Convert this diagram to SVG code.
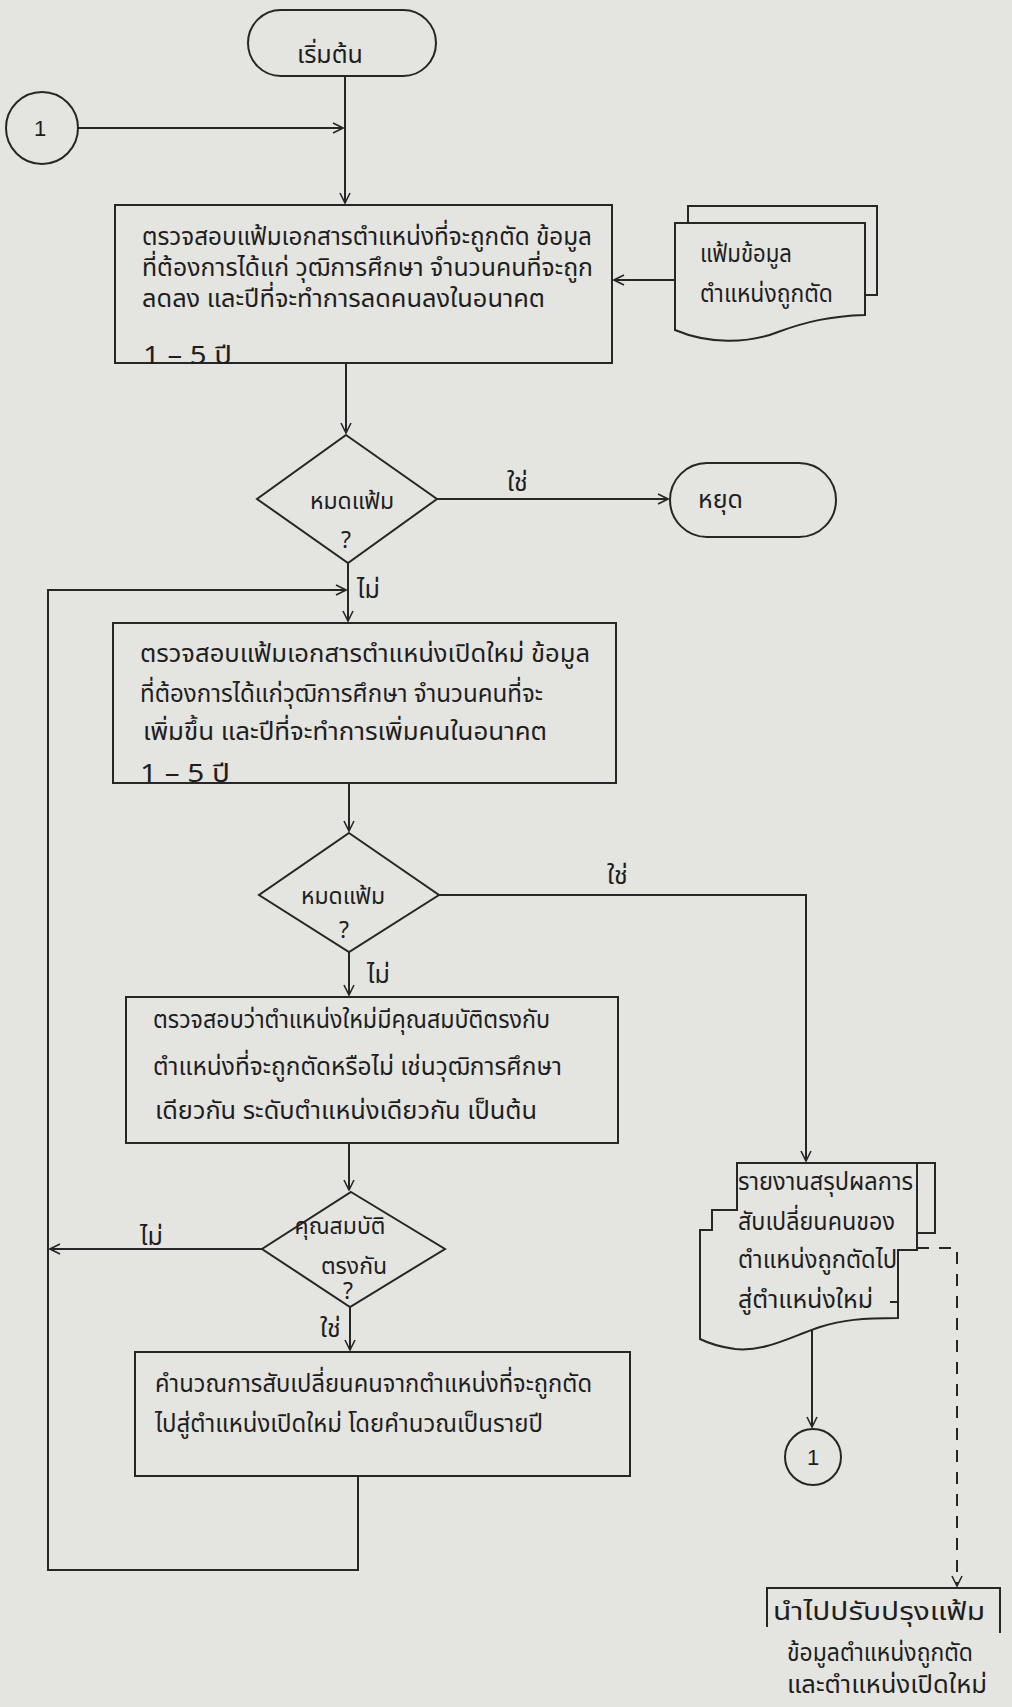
<svg xmlns="http://www.w3.org/2000/svg" width="1012" height="1707" viewBox="0 0 1012 1707">
<style>
.bg{fill:#e4e4e1}
.nd{fill:none;stroke:#262626;stroke-width:2}
.pg{fill:#e4e4e1;stroke:#262626;stroke-width:2}
.ln{fill:none;stroke:#262626;stroke-width:2}
.dash{fill:none;stroke:#262626;stroke-width:2;stroke-dasharray:12 10}
.t{font-family:"Noto Sans Thai","Noto Sans","DejaVu Sans",sans-serif;font-size:25px;fill:#1e1e1e}
.s{font-size:23px}
.c{text-anchor:middle}
.n{font-family:"Liberation Sans",Arial,sans-serif;font-size:22px;fill:#1e1e1e;text-anchor:middle}
</style>
<defs>
<marker id="ah" viewBox="0 0 12 12" refX="11" refY="6" markerWidth="12" markerHeight="12" markerUnits="userSpaceOnUse" orient="auto">
<path d="M1,1 L11,6 L1,11" fill="none" stroke="#262626" stroke-width="1.6"/>
</marker>
</defs>
<rect class="bg" x="0" y="0" width="1012" height="1707"/>

<g id="connectors">
<path class="ln" d="M345,76 V203" marker-end="url(#ah)"/>
<path class="ln" d="M78,128 H343" marker-end="url(#ah)"/>
<path class="ln" d="M675,280 H614" marker-end="url(#ah)"/>
<path class="ln" d="M346,363 V433" marker-end="url(#ah)"/>
<path class="ln" d="M437,499 H668" marker-end="url(#ah)"/>
<path class="ln" d="M348,563 V621" marker-end="url(#ah)"/>
<path class="ln" d="M358,1476 V1570 H48 V590 H346" marker-end="url(#ah)"/>
<path class="ln" d="M349,783 V831" marker-end="url(#ah)"/>
<path class="ln" d="M439,895 H806 V1161" marker-end="url(#ah)"/>
<path class="ln" d="M349,952 V995" marker-end="url(#ah)"/>
<path class="ln" d="M349,1143 V1190" marker-end="url(#ah)"/>
<path class="ln" d="M262,1249 H50" marker-end="url(#ah)"/>
<path class="ln" d="M350,1307 V1350" marker-end="url(#ah)"/>
<path class="ln" d="M812,1330 V1427" marker-end="url(#ah)"/>
<path class="dash" d="M917,1248 H957 V1586" marker-end="url(#ah)"/>
<text class="t" x="507" y="491">ใช่</text>
<text class="t" x="357" y="598">ไม่</text>
<text class="t" x="607" y="884">ใช่</text>
<text class="t" x="367" y="983">ไม่</text>
<text class="t" x="140" y="1245">ไม่</text>
<text class="t" x="320" y="1337">ใช่</text>
</g>

<g id="start">
<rect class="nd" x="248" y="10" width="188" height="66" rx="33"/>
<text class="t c" x="330" y="63">เริ่มต้น</text>
</g>

<g id="connector-1-in">
<circle class="nd" cx="42" cy="128" r="36"/>
<text class="n" x="40" y="136">1</text>
</g>

<g id="box1">
<rect class="nd" x="115" y="205" width="497" height="158"/>
<text class="t" x="142" y="245" textLength="450" lengthAdjust="spacingAndGlyphs">ตรวจสอบแฟ้มเอกสารตำแหน่งที่จะถูกตัด ข้อมูล</text>
<text class="t" x="142" y="276" textLength="451" lengthAdjust="spacingAndGlyphs">ที่ต้องการได้แก่ วุฒิการศึกษา จำนวนคนที่จะถูก</text>
<text class="t" x="142" y="307" textLength="403" lengthAdjust="spacingAndGlyphs">ลดลง และปีที่จะทำการลดคนลงในอนาคต</text>
<text class="t" x="143" y="364" textLength="89" lengthAdjust="spacingAndGlyphs">1 – 5 ปี</text>
</g>

<g id="doc1">
<path class="pg" d="M688,295 V206 H877 V295 H860"/>
<path class="pg" d="M675,223 H865 V315 C830,316 805,322 778,332 C748,344 708,344 675,330 Z"/>
<text class="t" x="700" y="262" textLength="92" lengthAdjust="spacingAndGlyphs">แฟ้มข้อมูล</text>
<text class="t" x="700" y="302" textLength="133" lengthAdjust="spacingAndGlyphs">ตำแหน่งถูกตัด</text>
</g>

<g id="decision1">
<path class="nd" d="M346,435 L437,499 L348,563 L257,499 Z"/>
<text class="t s c" x="352" y="509">หมดแฟ้ม</text>
<text class="t s c" x="346" y="548">?</text>
</g>

<g id="stop">
<rect class="nd" x="670" y="463" width="166" height="74" rx="37"/>
<text class="t" x="698" y="508">หยุด</text>
</g>

<g id="box2">
<rect class="nd" x="113" y="623" width="503" height="160"/>
<text class="t" x="140" y="662" textLength="450" lengthAdjust="spacingAndGlyphs">ตรวจสอบแฟ้มเอกสารตำแหน่งเปิดใหม่ ข้อมูล</text>
<text class="t" x="140" y="702" textLength="403" lengthAdjust="spacingAndGlyphs">ที่ต้องการได้แก่วุฒิการศึกษา จำนวนคนที่จะ</text>
<text class="t" x="143" y="740" textLength="404" lengthAdjust="spacingAndGlyphs">เพิ่มขึ้น และปีที่จะทำการเพิ่มคนในอนาคต</text>
<text class="t" x="140" y="782" textLength="90" lengthAdjust="spacingAndGlyphs">1 – 5 ปี</text>
</g>

<g id="decision2">
<path class="nd" d="M349,833 L439,895 L349,952 L259,895 Z"/>
<text class="t s c" x="343" y="904">หมดแฟ้ม</text>
<text class="t s c" x="344" y="938">?</text>
</g>

<g id="box3">
<rect class="nd" x="126" y="997" width="492" height="146"/>
<text class="t" x="153" y="1028" textLength="397" lengthAdjust="spacingAndGlyphs">ตรวจสอบว่าตำแหน่งใหม่มีคุณสมบัติตรงกับ</text>
<text class="t" x="153" y="1075" textLength="409" lengthAdjust="spacingAndGlyphs">ตำแหน่งที่จะถูกตัดหรือไม่ เช่นวุฒิการศึกษา</text>
<text class="t" x="155" y="1119" textLength="382" lengthAdjust="spacingAndGlyphs">เดียวกัน ระดับตำแหน่งเดียวกัน เป็นต้น</text>
</g>

<g id="decision3">
<path class="nd" d="M351,1192 L445,1249 L350,1307 L262,1249 Z"/>
<text class="t s c" x="340" y="1234">คุณสมบัติ</text>
<text class="t s c" x="354" y="1274">ตรงกัน</text>
<text class="t s c" x="348" y="1299">?</text>
</g>

<g id="box4">
<rect class="nd" x="135" y="1352" width="495" height="124"/>
<text class="t" x="155" y="1392" textLength="437" lengthAdjust="spacingAndGlyphs">คำนวณการสับเปลี่ยนคนจากตำแหน่งที่จะถูกตัด</text>
<text class="t" x="155" y="1432" textLength="388" lengthAdjust="spacingAndGlyphs">ไปสู่ตำแหน่งเปิดใหม่ โดยคำนวณเป็นรายปี</text>
</g>

<g id="doc2">
<path class="pg" d="M737,1163 H935 V1233 H917 V1250 H898 V1318 C862,1318 842,1320 820,1327 C790,1337 765,1352 735,1349 C720,1347 708,1343 700,1339 V1230 H712 V1210 H737 Z"/>
<path class="nd" d="M917,1163 V1233"/>
<path class="nd" d="M712,1210 H726"/>
<path class="nd" d="M700,1230 H710"/>
<path class="nd" d="M898,1290 V1302 H890"/>
<text class="t" x="738" y="1190" textLength="175" lengthAdjust="spacingAndGlyphs">รายงานสรุปผลการ</text>
<text class="t" x="738" y="1230" textLength="157" lengthAdjust="spacingAndGlyphs">สับเปลี่ยนคนของ</text>
<text class="t" x="738" y="1268" textLength="159" lengthAdjust="spacingAndGlyphs">ตำแหน่งถูกตัดไป</text>
<text class="t" x="738" y="1308" textLength="135" lengthAdjust="spacingAndGlyphs">สู่ตำแหน่งใหม่</text>
</g>

<g id="connector-1-out">
<circle class="nd" cx="813" cy="1457" r="28"/>
<text class="n" x="813" y="1465">1</text>
</g>

<g id="note">
<path class="nd" d="M767,1627 V1588 H1000 V1633"/>
<text class="t" x="773" y="1620" textLength="212" lengthAdjust="spacingAndGlyphs">นำไปปรับปรุงแฟ้ม</text>
<text class="t" x="787" y="1661" textLength="186" lengthAdjust="spacingAndGlyphs">ข้อมูลตำแหน่งถูกตัด</text>
<text class="t" x="787" y="1693" textLength="200" lengthAdjust="spacingAndGlyphs">และตำแหน่งเปิดใหม่</text>
</g>
</svg>
